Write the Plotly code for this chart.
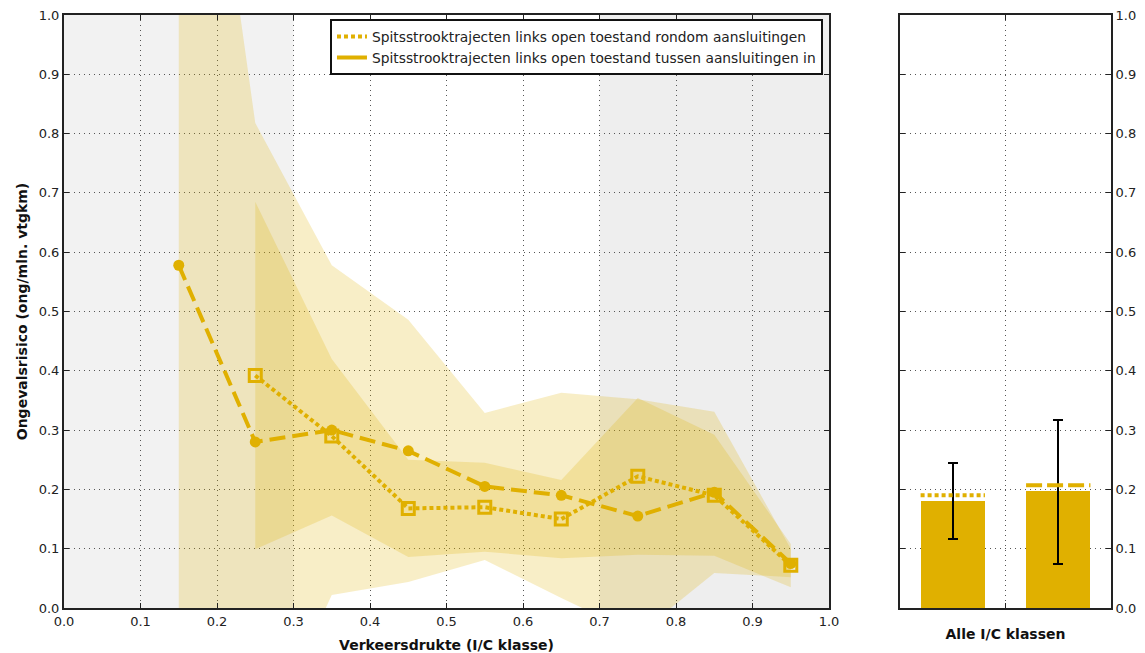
import plotly.graph_objects as go

# I/C class centres
ic_rondom = [0.25, 0.35, 0.45, 0.55, 0.65, 0.75, 0.85, 0.95]
ic_tussen = [0.15, 0.25, 0.35, 0.45, 0.55, 0.65, 0.75, 0.85, 0.95]

# accident risk per I/C class (ong/mln. vtgkm)
risk_rondom = [0.392, 0.290, 0.168, 0.170, 0.150, 0.222, 0.190, 0.072]
risk_tussen = [0.578, 0.280, 0.300, 0.265, 0.205, 0.190, 0.155, 0.195, 0.075]

# confidence bands
upper_rondom = [0.685, 0.420, 0.250, 0.245, 0.216, 0.354, 0.292, 0.108]
lower_rondom = [0.099, 0.156, 0.086, 0.095, 0.084, 0.090, 0.088, 0.035]
upper_tussen = [1.740, 0.818, 0.578, 0.486, 0.329, 0.363, 0.352, 0.331, 0.100]
lower_tussen = [-0.580, -0.258, 0.022, 0.044, 0.081, 0.017, -0.045, 0.059, 0.052]

# all I/C classes together
overall_x = [0, 1]
overall_bar = [0.181, 0.197]
overall_low = [0.116, 0.075]
overall_high = [0.244, 0.317]
overall_mean_rondom = 0.190
overall_mean_tussen = 0.207

legend_rondom = "Spitsstrooktrajecten links open toestand rondom aansluitingen"
legend_tussen = "Spitsstrooktrajecten links open toestand tussen aansluitingen in"

GOLD = "#E0B000"
BAND = "rgba(224,176,0,0.22)"
FONT = "DejaVu Sans"
GRID = "#555555"

fig = go.Figure()

# shaded I/C regions
fig.add_shape(type="rect", xref="x", yref="paper", x0=0.0, x1=0.3, y0=0, y1=1,
              fillcolor="#f2f2f2", line_width=0, layer="below")
fig.add_shape(type="rect", xref="x", yref="paper", x0=0.7, x1=1.0, y0=0, y1=1,
              fillcolor="#eeeeee", line_width=0, layer="below")

# confidence bands
fig.add_trace(go.Scatter(
    x=ic_tussen + ic_tussen[::-1], y=upper_tussen + lower_tussen[::-1],
    fill="toself", fillcolor=BAND, line=dict(width=0), mode="lines",
    showlegend=False, hoverinfo="skip", xaxis="x", yaxis="y"))
fig.add_trace(go.Scatter(
    x=ic_rondom + ic_rondom[::-1], y=upper_rondom + lower_rondom[::-1],
    fill="toself", fillcolor=BAND, line=dict(width=0), mode="lines",
    showlegend=False, hoverinfo="skip", xaxis="x", yaxis="y"))

# series lines
fig.add_trace(go.Scatter(
    x=ic_rondom, y=risk_rondom, mode="lines+markers",
    line=dict(color=GOLD, width=4, dash="4px,3px"),
    marker=dict(symbol="square-open", size=12, color=GOLD, line=dict(width=3, color=GOLD)),
    showlegend=False, xaxis="x", yaxis="y"))
fig.add_trace(go.Scatter(
    x=ic_tussen, y=risk_tussen, mode="lines+markers",
    line=dict(color=GOLD, width=4, dash="16px,7px"),
    marker=dict(symbol="circle", size=11, color=GOLD),
    showlegend=False, xaxis="x", yaxis="y"))

# legend entries (line samples only)
fig.add_trace(go.Scatter(x=[None], y=[None], mode="lines", name=legend_rondom,
                         line=dict(color=GOLD, width=4, dash="4px,3px"), xaxis="x", yaxis="y"))
fig.add_trace(go.Scatter(x=[None], y=[None], mode="lines", name=legend_tussen,
                         line=dict(color=GOLD, width=4, dash="solid"), xaxis="x", yaxis="y"))

# overall bars with error bars
bar_w = 0.61
fig.add_trace(go.Bar(
    x=overall_x, y=overall_bar, width=bar_w, marker=dict(color=GOLD, line=dict(width=0)),
    error_y=dict(type="data", symmetric=False,
                 array=[h - b for h, b in zip(overall_high, overall_bar)],
                 arrayminus=[b - l for b, l in zip(overall_bar, overall_low)],
                 color="black", thickness=2, width=5),
    showlegend=False, xaxis="x2", yaxis="y2"))

# overall mean markers above the bars
for xc, m, d in [(overall_x[0], overall_mean_rondom, "4px,3px"), (overall_x[1], overall_mean_tussen, "16px,5px")]:
    fig.add_trace(go.Scatter(
        x=[xc - bar_w / 2, xc + bar_w / 2], y=[m, m], mode="lines",
        line=dict(color=GOLD, width=4, dash=d), showlegend=False,
        xaxis="x2", yaxis="y2"))

tickfont = dict(family=FONT, size=13, color="#222222")
titlefont = dict(family=FONT, size=14, color="#111111", weight="bold")
axis_common = dict(showline=True, linecolor="#222222", linewidth=2, ticks="inside",
                   ticklen=5, tickcolor="#222222", showgrid=True, gridcolor=GRID,
                   griddash="1px,4px", gridwidth=1, zeroline=False, tickfont=tickfont,
                   automargin=False)

fig.update_layout(
    width=1145, height=653,
    margin=dict(l=64, r=34, t=15, b=45),
    paper_bgcolor="white", plot_bgcolor="white",
    font=dict(family=FONT),
    bargap=0,
    xaxis=dict(domain=[0, 0.7307], range=[0, 1], tickvals=[i / 10 for i in range(11)],
               ticktext=[f"{i / 10:.1f}" for i in range(11)], mirror="ticks",
               title=dict(text="Verkeersdrukte (I/C klasse)", font=titlefont, standoff=14),
               **axis_common),
    yaxis=dict(range=[0, 1], tickvals=[i / 10 for i in range(11)],
               ticktext=[f"{i / 10:.1f}" for i in range(11)], mirror="ticks",
               title=dict(text="Ongevalsrisico (ong/mln. vtgkm)", font=titlefont, standoff=8),
               **axis_common),
    xaxis2=dict(domain=[0.7985, 1], range=[-0.5, 1.5], tickvals=[0.5], ticktext=[""],
                mirror="ticks", anchor="y2",
                title=dict(text="Alle I/C klassen", font=titlefont, standoff=18),
                **axis_common),
    yaxis2=dict(range=[0, 1], tickvals=[i / 10 for i in range(11)],
                ticktext=[f"{i / 10:.1f}" for i in range(11)], side="right",
                mirror="ticks", anchor="x2", **axis_common),
    legend=dict(x=0.7249, y=0.993, xanchor="right", yanchor="top",
                bgcolor="white", bordercolor="#111111", borderwidth=2,
                font=dict(family=FONT, size=13.8, color="#222222"),
                tracegroupgap=0),
)

fig.write_html("out.html")
